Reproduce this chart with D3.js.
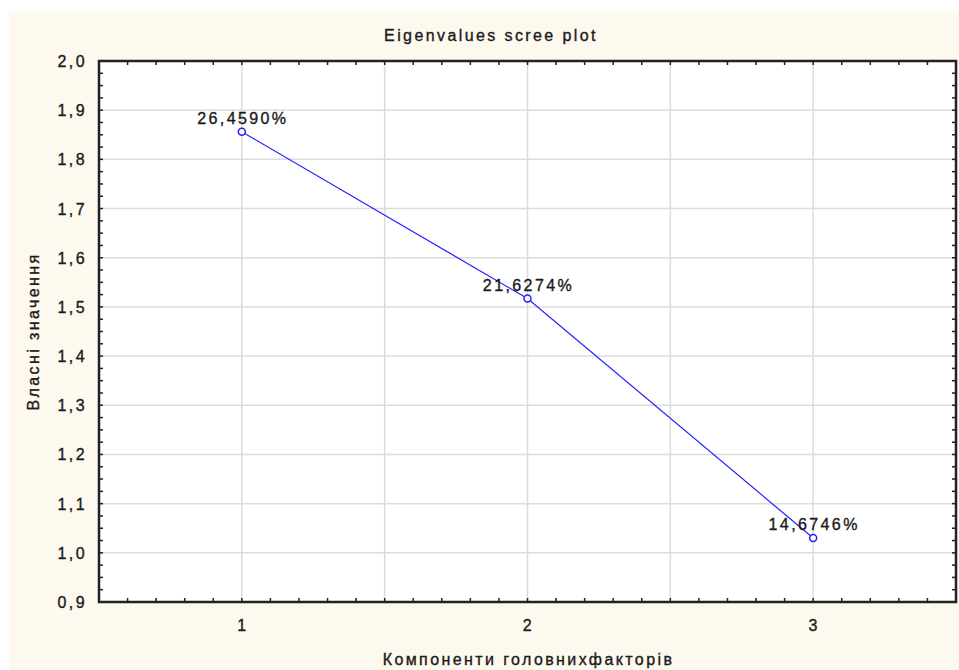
<!DOCTYPE html>
<html>
<head>
<meta charset="utf-8">
<script src="https://cdn.jsdelivr.net/npm/d3@7"></script>
<style>
  body { margin: 0; background: #fff; }
  text {
    font-family: "Liberation Sans", Arial, sans-serif;
    font-size: 16px;
    letter-spacing: 2.4px;
    fill: #1a1a1a;
    stroke: #1a1a1a;
    stroke-width: 0.35px;
  }
</style>
</head>
<body>
<svg id="chart" width="959" height="670"></svg>
<script>
// chart data
const components = [1, 2, 3];
const eigenvalues = [1.856, 1.517, 1.030];
const pctLabels = ["26,4590%", "21,6274%", "14,6746%"];
const yTicks = [0.9, 1.0, 1.1, 1.2, 1.3, 1.4, 1.5, 1.6, 1.7, 1.8, 1.9, 2.0];
const xTicks = [1, 2, 3];
const xGrid = [1, 1.5, 2, 2.5, 3];

const svg = d3.select("#chart");

// cream panel background
svg.append("rect")
    .attr("x", 9).attr("y", 11)
    .attr("width", 950).attr("height", 659)
    .attr("fill", "#fdf9ef");

const margin = { top: 61, right: 3, bottom: 68, left: 99 },
    width = 959 - margin.left - margin.right,
    height = 670 - margin.top - margin.bottom;

const x = d3.scaleLinear().domain([0.5, 3.5]).range([0, width]);
const y = d3.scaleLinear().domain([0.9, 2.0]).range([height, 0]);

const g = svg.append("g")
    .attr("transform", "translate(" + margin.left + "," + margin.top + ")");

g.append("rect")
    .attr("width", width).attr("height", height)
    .attr("fill", "#fff");

// grid lines
g.selectAll(".hgrid")
    .data(yTicks.slice(1, -1))
    .enter().append("line")
    .attr("x1", 0).attr("x2", width)
    .attr("y1", d => y(d)).attr("y2", d => y(d))
    .attr("stroke", "#dcdcdc").attr("stroke-width", 1.5);

g.selectAll(".vgrid")
    .data(xGrid)
    .enter().append("line")
    .attr("y1", 0).attr("y2", height)
    .attr("x1", d => x(d)).attr("x2", d => x(d))
    .attr("stroke", "#dcdcdc").attr("stroke-width", 1.5);

// minor ticks, inside, all four sides
const xMinor = d3.range(6, 35).map(d => d / 10);
const yMinor = d3.range(37, 80).map(d => d / 40);
const tickLen = 4;

const tickGroup = g.append("g").attr("stroke", "#222").attr("stroke-width", 1.5);
xMinor.forEach(v => {
    tickGroup.append("line").attr("x1", x(v)).attr("x2", x(v)).attr("y1", height).attr("y2", height - tickLen);
    tickGroup.append("line").attr("x1", x(v)).attr("x2", x(v)).attr("y1", 0).attr("y2", tickLen);
});
yMinor.forEach(v => {
    tickGroup.append("line").attr("y1", y(v)).attr("y2", y(v)).attr("x1", 0).attr("x2", tickLen);
    tickGroup.append("line").attr("y1", y(v)).attr("y2", y(v)).attr("x1", width).attr("x2", width - tickLen);
});

// frame
g.append("rect")
    .attr("width", width).attr("height", height)
    .attr("fill", "none")
    .attr("stroke", "#222").attr("stroke-width", 2.5);

// tick labels
const fmt = d => d3.format(".1f")(d).replace(".", ",");
g.selectAll(".ylab")
    .data(yTicks)
    .enter().append("text")
    .attr("x", -12)
    .attr("y", d => y(d) + 6)
    .attr("text-anchor", "end")
    .text(fmt);

g.selectAll(".xlab")
    .data(xTicks)
    .enter().append("text")
    .attr("x", d => x(d) + 1)
    .attr("y", height + 29)
    .attr("text-anchor", "middle")
    .text(d => d);

// line and points
const points = components.map((c, i) => ({ c: c, v: eigenvalues[i], label: pctLabels[i] }));

g.append("path")
    .datum(points)
    .attr("fill", "none")
    .attr("stroke", "#2020ff")
    .attr("stroke-width", 1.2)
    .attr("d", d3.line().x(d => x(d.c)).y(d => y(d.v)));

g.selectAll(".pt")
    .data(points)
    .enter().append("circle")
    .attr("cx", d => x(d.c))
    .attr("cy", d => y(d.v))
    .attr("r", 3.5)
    .attr("fill", "#fff")
    .attr("stroke", "#2020ff")
    .attr("stroke-width", 1.5);

g.selectAll(".ptlab")
    .data(points)
    .enter().append("text")
    .attr("x", d => x(d.c) + 1)
    .attr("y", d => y(d.v) - 8)
    .attr("text-anchor", "middle")
    .text(d => d.label);

// titles
svg.append("text")
    .attr("x", 491).attr("y", 41)
    .attr("text-anchor", "middle")
    .text("Eigenvalues scree plot");

svg.append("text")
    .attr("x", margin.left + width / 2 + 1).attr("y", 665)
    .attr("text-anchor", "middle")
    .text("Компоненти головнихфакторів");

svg.append("text")
    .attr("transform", "translate(39," + (margin.top + height / 2) + ") rotate(-90)")
    .attr("text-anchor", "middle")
    .text("Власні значення");
</script>
</body>
</html>
